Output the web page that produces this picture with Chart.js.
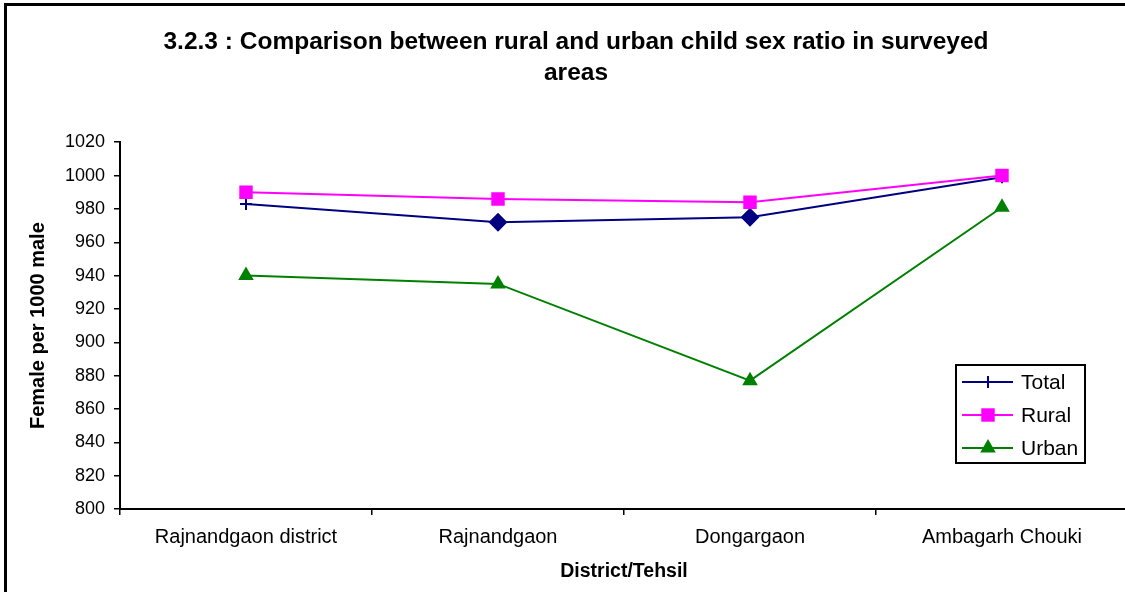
<!DOCTYPE html>
<html>
<head>
<meta charset="utf-8">
<script src="https://cdn.jsdelivr.net/npm/chart.js@4/dist/chart.umd.min.js"></script>
<style>
  html, body { margin: 0; padding: 0; background: #fff; overflow: hidden; width: 1125px; height: 592px; }
  #frame { position: absolute; left: 4px; top: 3px; border: 3px solid #000; width: 1140px; height: 600px; }
  canvas { display: block; }
</style>
</head>
<body>
<div id="frame"><canvas id="myChart" width="1140" height="600"></canvas></div>
<script>
// data
var places = ['Rajnandgaon district', 'Rajnandgaon', 'Dongargaon', 'Ambagarh Chouki'];
var total = [983, 972, 975, 999];
var rural = [990, 986, 984, 1000];
var urban = [940, 935, 877, 981];
var seriesNames = ['Total', 'Rural', 'Urban'];
var yMin = 800, yMax = 1020, yStep = 20;

var FONT = '"Liberation Sans", Arial, sans-serif';

// legend box drawn inside the plot, like the excel one
var boxLegend = {
  id: 'boxLegend',
  afterDraw: function(chart) {
    var ctx = chart.ctx;
    var x = 949, y = 359, w = 129, h = 98;
    ctx.save();
    ctx.fillStyle = '#fff';
    ctx.fillRect(x, y, w, h);
    ctx.lineWidth = 2;
    ctx.strokeStyle = '#000';
    ctx.strokeRect(x, y, w, h);
    var ds = chart.data.datasets;
    for (var i = 0; i < ds.length; i++) {
      var rowY = y + 17 + i * 33;
      ctx.strokeStyle = ds[i].borderColor;
      ctx.lineWidth = 2;
      ctx.beginPath();
      ctx.moveTo(x + 6, rowY);
      ctx.lineTo(x + 57, rowY);
      ctx.stroke();
      ctx.fillStyle = ds[i].borderColor;
      Chart.helpers.drawPoint(ctx, {
        pointStyle: ds[i].legendStyle,
        radius: ds[i].legendRadius,
        borderWidth: ds[i].legendStyle === 'cross' ? 2 : 0
      }, x + 32, rowY);
      ctx.fillStyle = '#000';
      ctx.font = '21px ' + FONT;
      ctx.textBaseline = 'middle';
      ctx.fillText(ds[i].label, x + 65, rowY + 1);
    }
    ctx.restore();
  }
};

var ctx = document.getElementById('myChart');
var myChart = new Chart(ctx, {
  type: 'line',
  data: {
    labels: places,
    datasets: [{
      label: seriesNames[0],
      data: total,
      borderColor: '#000080',
      backgroundColor: '#000080',
      borderWidth: 2,
      pointStyle: ['cross', 'rectRot', 'rectRot', 'cross'],
      pointRadius: [6, 8, 8, 6],
      pointBorderWidth: 2,
      legendStyle: 'cross',
      legendRadius: 6,
      order: 1,
      tension: 0
    }, {
      label: seriesNames[1],
      data: rural,
      borderColor: '#ff00ff',
      backgroundColor: '#ff00ff',
      borderWidth: 2,
      pointStyle: 'rect',
      pointRadius: 9.5,
      pointBorderWidth: 0,
      legendStyle: 'rect',
      legendRadius: 9.5,
      order: 0,
      tension: 0
    }, {
      label: seriesNames[2],
      data: urban,
      borderColor: '#008000',
      backgroundColor: '#008000',
      borderWidth: 2,
      pointStyle: 'triangle',
      pointRadius: 9,
      pointBorderWidth: 0,
      legendStyle: 'triangle',
      legendRadius: 9,
      order: 2,
      tension: 0
    }]
  },
  options: {
    responsive: false,
    animation: false,
    layout: { padding: { left: 0, right: 2, top: 0, bottom: 0 } },
    plugins: {
      legend: { display: false },
      tooltip: { enabled: false },
      title: {
        display: true,
        text: ['3.2.3 : Comparison between rural and urban child sex ratio in surveyed', 'areas'],
        color: '#000',
        font: { family: FONT, size: 24.5, weight: 'bold', lineHeight: 1.27 },
        padding: { top: 21, bottom: 53 }
      }
    },
    scales: {
      x: {
        offset: true,
        afterFit: function(s) { s.height = 97; },
        border: { color: '#000', width: 2 },
        grid: { drawOnChartArea: false, color: '#000', lineWidth: 1.5, tickLength: 6, offset: true },
        ticks: { color: '#000', padding: 10, maxRotation: 0, autoSkip: false, font: { family: FONT, size: 20 } },
        title: {
          display: true,
          text: 'District/Tehsil',
          color: '#000',
          font: { family: FONT, size: 19.5, weight: 'bold', lineHeight: 1.2 },
          padding: { top: 0, bottom: 23 }
        }
      },
      y: {
        min: yMin,
        max: yMax,
        afterFit: function(s) { s.width = 113; },
        border: { color: '#000', width: 2 },
        grid: { drawOnChartArea: false, color: '#000', lineWidth: 1.5, tickLength: 6 },
        ticks: {
          stepSize: yStep, color: '#000', padding: 9, font: { family: FONT, size: 18 },
          callback: function(v) { return String(v); }
        },
        title: {
          display: true,
          text: 'Female per 1000 male',
          color: '#000',
          font: { family: FONT, size: 20, weight: 'bold', lineHeight: 1.2 },
          padding: { top: 19, bottom: 0 }
        }
      },
      // empty spacer on the right so the title stays centred over the whole frame
      spacer: {
        position: 'right',
        display: true,
        afterFit: function(s) { s.width = 17; },
        border: { display: false },
        grid: { display: false },
        ticks: { display: false }
      }
    }
  },
  plugins: [boxLegend]
});
</script>
</body>
</html>
